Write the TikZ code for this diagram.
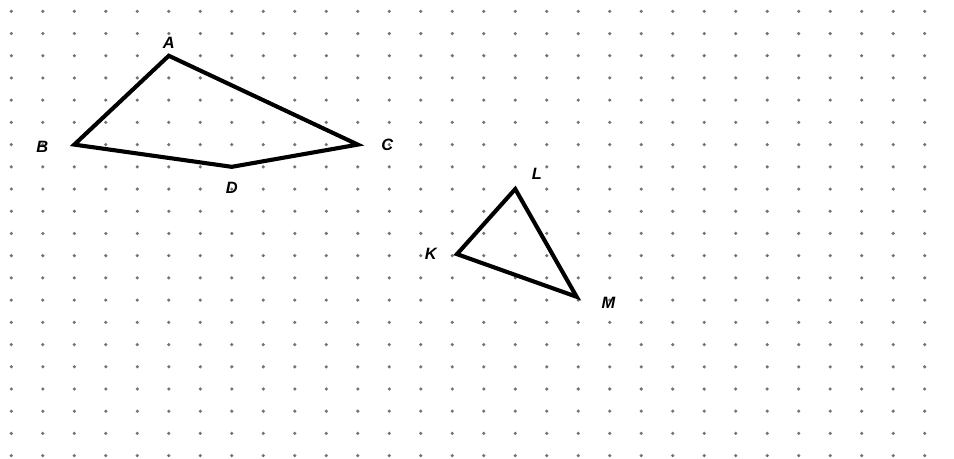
\documentclass[tikz,border=0pt]{standalone}
\usepackage{fontspec}
\setmainfont{Liberation Sans}
\usepackage{tikz}
\usetikzlibrary{positioning}

\begin{document}
\begin{tikzpicture}[x={(0.945cm,0)},y={(0,-0.6666cm)},
        pt/.style={font=\fontsize{14}{16}\selectfont\bfseries\itshape,inner sep=0pt},
        fig/.style={line width=3.5pt}]
        \useasboundingbox (-0.359,-0.509) rectangle (29.93,20.15);
        % dot paper
        \foreach \i in {0,...,30}
            \foreach \j in {0,...,20}
                \fill[black!55] (\i,\j) circle (1.5pt);
        % quadrilateral
        \coordinate (A) at (5,2);
        \coordinate (B) at (2,6);
        \coordinate (C) at (11,6);
        \coordinate (D) at (7,7);
        \draw[fig] (A) -- (C) -- (D) -- (B) -- cycle;
        \node[pt, above=6pt of A] (nA) {A};
        \node[pt, left=22pt of B, yshift=-2pt] (nB) {B};
        \node[pt, right=20pt of C] (nC) {C};
        \node[pt, below=13pt of D] (nD) {D};
        % triangle
        \coordinate (K) at (14.15,10.93);
        \coordinate (L) at (16,8);
        \coordinate (M) at (17.95,12.85);
        \draw[fig] (K) -- (L) -- (M) -- cycle;
        \node[pt, left=17pt of K] (nK) {K};
        \node[pt, above right=8pt and 14pt of L] (nL) {L};
        \node[pt, below right=0pt and 21pt of M] (nM) {M};
    \end{tikzpicture}
\end{document}
